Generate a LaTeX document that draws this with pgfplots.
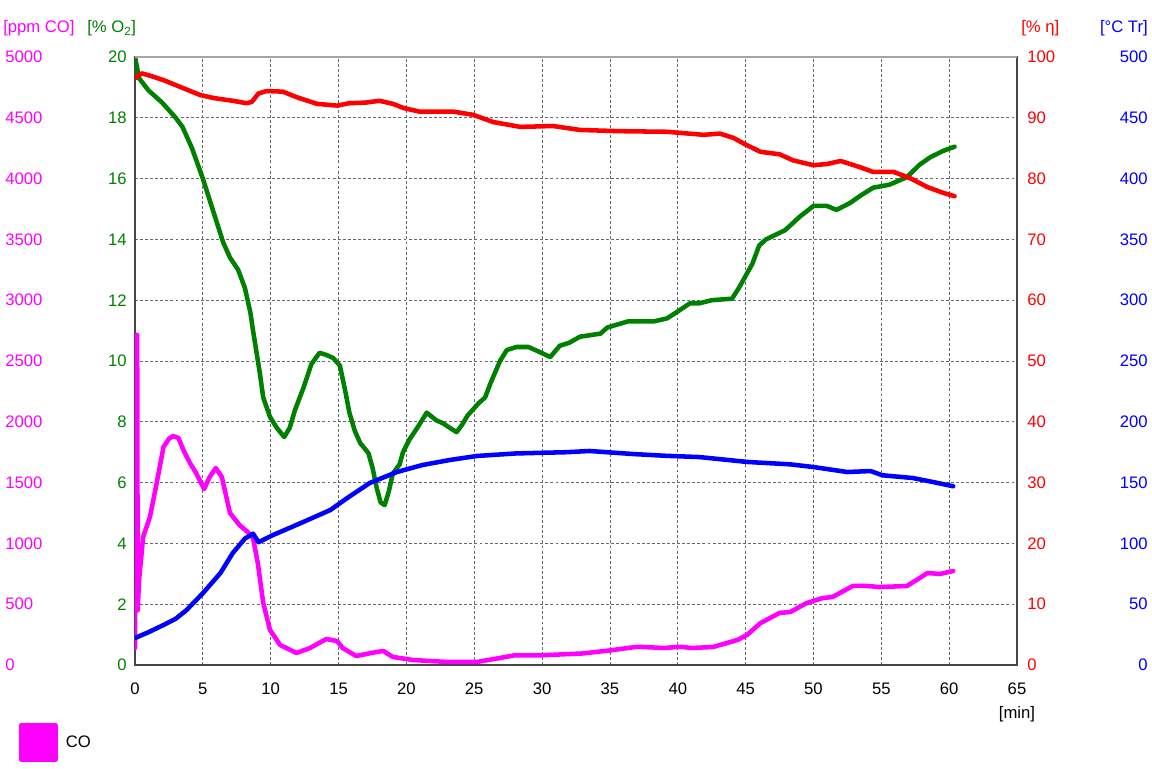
\documentclass[border=0pt]{standalone}
\usepackage{fontspec}
\setmainfont{Liberation Sans}
\usepackage{pgfplots}
\pgfplotsset{compat=1.18}
\definecolor{cMag}{RGB}{255,0,255}
\definecolor{cGreen}{RGB}{0,128,0}
\definecolor{cRed}{RGB}{255,0,0}
\definecolor{cBlue}{RGB}{0,0,255}
\definecolor{gridc}{RGB}{105,105,105}
\definecolor{axc}{RGB}{70,70,70}
\pgfplotsset{
 base/.style={
  width=661.5pt, height=456pt, scale only axis,
  xmin=0, xmax=65,
  font=\fontsize{12.5}{15}\selectfont,
  /pgf/number format/assume math mode=true,
  /pgf/number format/1000 sep={},
  scaled ticks=false,
  tick style={draw=none},
 },
 over/.style={base, axis line style={draw=none}, xtick=\empty, grid=none},
 curve/.style={line width=3.4pt, line join=round, line cap=round},
}
\begin{document}
\begin{tikzpicture}
\useasboundingbox (-101.25pt,-77.25pt) rectangle (762.75pt,498.75pt);
% O2 axis with grid
\begin{axis}[base, name=A, ymin=0, ymax=20,
  xtick={0,5,...,65}, ytick={0,2,...,20},
  grid=major, major grid style={gridc, dash pattern=on 2.2pt off 1.6pt, line width=0.6pt},
  axis line style={axc, line width=0.8pt},
  xticklabel style={anchor=north, inner sep=0pt, yshift=-13pt, text=black},
  yticklabel style={anchor=east, inner sep=0pt, xshift=-6pt, text=cGreen},
  xlabel={[min]}, xlabel style={at={(rel axis cs:1,0)}, anchor=north, inner sep=0pt, yshift=-31pt},
  after end axis/.code={\draw[black!35, line width=0.9pt] (rel axis cs:0,1) -- (rel axis cs:1,1);},
]
\addplot[curve, cGreen] coordinates {
(0,20.0) (0.3,19.3) (1,18.9) (2,18.5) (3,18.0) (3.5,17.7) (4.2,17.0) (4.6,16.5) (5,16.0) (5.5,15.3) (6,14.6) (6.5,13.9) (7,13.4) (7.6,13.0) (8.1,12.4) (8.5,11.6) (8.7,11.0) (9.2,9.6) (9.45,8.8) (9.95,8.16) (10.45,7.8) (11,7.5) (11.4,7.8) (11.8,8.4) (12.4,9.1) (13,9.9) (13.6,10.27) (14.1,10.2) (14.6,10.1) (15.1,9.85) (15.5,9.0) (15.8,8.3) (16.2,7.7) (16.6,7.3) (17.2,6.97) (17.5,6.5) (17.8,5.85) (18.1,5.35) (18.4,5.26) (18.7,5.7) (19.0,6.3) (19.5,6.6) (19.75,7.0) (20.2,7.4) (20.8,7.8) (21.5,8.3) (22.2,8.05) (22.7,7.95) (23.2,7.8) (23.7,7.66) (24.1,7.9) (24.5,8.2) (25.3,8.6) (25.8,8.8) (26.2,9.27) (26.9,10.0) (27.4,10.36) (28.1,10.46) (29.0,10.46) (29.8,10.3) (30.6,10.13) (31.3,10.5) (32,10.6) (32.8,10.8) (34.3,10.9) (34.8,11.1) (36.3,11.3) (38.2,11.3) (39.2,11.4) (39.9,11.6) (40.9,11.9) (41.6,11.9) (42.5,12.0) (44,12.05) (44.5,12.4) (45,12.8) (45.5,13.2) (46,13.8) (46.5,14.0) (47.2,14.15) (47.9,14.3) (49,14.75) (50,15.1) (51,15.1) (51.7,14.97) (52.7,15.2) (53.5,15.45) (54.4,15.7) (55.6,15.8) (56.9,16.05) (57.8,16.45) (58.6,16.7) (59.5,16.9) (60.4,17.05)
};
\end{axis}
% CO axis
\begin{axis}[over, ymin=0, ymax=5000, ytick={0,500,...,5000},
  yticklabel style={anchor=west, inner sep=0pt, xshift=-97.5pt, text=cMag},
  legend style={at={(rel axis cs:0,0)}, anchor=north west, xshift=-87pt, yshift=-43.5pt,
    draw=none, fill=none, inner sep=0pt, outer sep=0pt, column sep=6pt,
    nodes={inner sep=0pt, anchor=west}, font=\fontsize{12.5}{15}\selectfont},
  legend image code/.code={\fill[cMag] (0pt,-12.9pt) rectangle (25.8pt,12.9pt);},
]
\addplot[curve, cMag] coordinates {
(0,140) (0.08,2714) (0.16,2714) (0.2,450) (0.3,700) (0.6,1053) (1.1,1217) (1.6,1497) (2.1,1793) (2.5,1860) (2.8,1883) (3.2,1867) (3.6,1760) (4.05,1661) (4.5,1579) (5.1,1447) (5.5,1546) (5.95,1620) (6.4,1546) (7.0,1250) (7.7,1151) (8.3,1094) (8.7,1044) (9.05,839) (9.45,510) (9.95,288) (10.7,164) (11.9,99) (12.9,140) (14.1,214) (14.9,197) (15.3,140) (16.3,74) (17.8,107) (18.3,115) (19.0,66) (20.5,41) (23.0,25) (25.2,25) (27,60) (28,80) (30,80) (33,95) (35,120) (37,150) (39,140) (40.2,150) (41,140) (42.6,148) (44.4,206) (45.1,247) (46.1,345) (47.5,428) (48.3,436) (49.5,510) (50.7,551) (51.4,559) (52.9,650) (53.9,650) (54.9,641) (56.9,650) (57.6,699) (58.4,757) (59.3,748) (60.3,773)
};
\addlegendentry{CO}
\end{axis}
% eta axis
\begin{axis}[over, ymin=0, ymax=100, ytick={0,10,...,100}, yticklabel pos=right,
  yticklabel style={anchor=west, inner sep=0pt, xshift=7.5pt, text=cRed}]
\addplot[curve, cRed] coordinates {
(0,96.5) (0.5,97.3) (1,97.0) (2.1,96.2) (3.3,95.1) (4.8,93.75) (5.8,93.25) (7.2,92.8) (8.2,92.4) (8.6,92.6) (9.1,94.0) (9.7,94.4) (10.9,94.3) (11.9,93.4) (13.4,92.3) (14.9,92.0) (15.8,92.4) (17,92.5) (18.0,92.8) (19.0,92.3) (19.8,91.6) (21.0,91.0) (23.5,91.0) (24.9,90.5) (26.4,89.3) (28.4,88.5) (30.8,88.65) (32.8,88.0) (35.7,87.8) (39.2,87.7) (41.9,87.2) (43.1,87.4) (44.1,86.7) (45,85.6) (46.1,84.4) (47.5,84.0) (48.5,83.0) (50.0,82.2) (51,82.4) (52.0,82.9) (53.4,81.9) (54.4,81.1) (55.9,81.1) (57.1,80.1) (58.4,78.6) (59.5,77.7) (60.4,77.1)
};
\end{axis}
% Tr axis
\begin{axis}[over, ymin=0, ymax=500, ytick={0,50,...,500}, yticklabel pos=right,
  yticklabel style={anchor=east, inner sep=0pt, xshift=98.25pt, text=cBlue}]
\addplot[curve, cBlue] coordinates {
(0,22.2) (1,27) (2.1,32.9) (3,38) (3.8,45.2) (5.0,59) (6.3,75.7) (7.2,92) (8.1,104) (8.7,108) (9.1,101) (10.2,107) (12.4,117.6) (14.4,127.5) (15.6,137) (17.3,149.7) (19.3,158.7) (21.2,164.5) (23.2,168.6) (25.2,171.9) (28.1,174) (31.8,175) (33.5,176) (36.7,173.5) (39.2,172) (41.6,171) (45.1,167) (48.3,165) (50.0,162.8) (52.5,158.7) (54.2,159.5) (55.1,156) (57.3,153.8) (58.8,150.5) (60.3,147)
};
\end{axis}
\begin{scope}[font=\fontsize{12.5}{15}\selectfont, inner sep=0pt]
\node[anchor=west, text=cMag] at ([xshift=-99pt, yshift=21.4pt]A.north west) {[ppm CO]};
\node[anchor=west, text=cGreen] at ([xshift=-36pt, yshift=21.4pt]A.north west) {[\% O\textsubscript{2}]};
\node[anchor=west, text=cRed] at ([xshift=3pt, yshift=21.4pt]A.north east) {[\% η]};
\node[anchor=east, text=cBlue] at ([xshift=98.25pt, yshift=21.4pt]A.north east) {[°C Tr]};
\end{scope}
\end{tikzpicture}
\end{document}
